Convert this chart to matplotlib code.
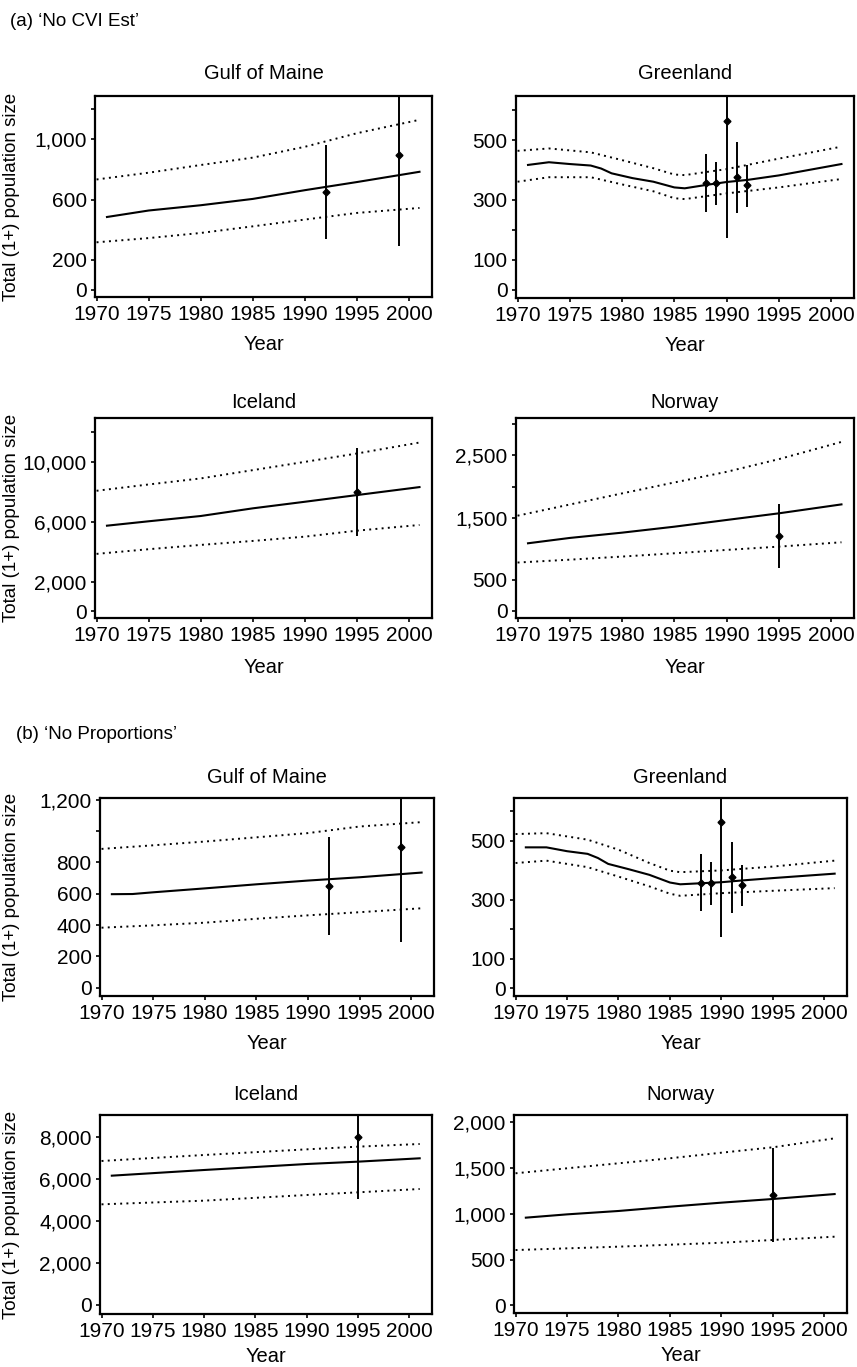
import matplotlib
matplotlib.use("Agg")
import matplotlib.pyplot as plt

plt.rcParams['font.family'] = ['Liberation Sans', 'DejaVu Sans']

# ---- (a) 'No CVI Est' ----
a_gom_mid_yr = [1971, 1975, 1980, 1985, 1990, 1995, 2001]
a_gom_mid = [484, 527, 562, 604, 662, 716, 784]
a_gom_band_yr = [1970, 1975, 1980, 1985, 1990, 1995, 2001]
a_gom_hi = [733, 778, 829, 878, 950, 1040, 1129]
a_gom_lo = [316, 344, 378, 422, 467, 511, 544]
a_gom_obs_yr = [1992, 1999]
a_gom_obs = [651, 898]
a_gom_obs_lo = [338, 293]
a_gom_obs_hi = [960, 1500]

a_grl_mid_yr = [1971, 1973, 1975, 1977, 1978, 1979, 1981, 1983, 1985, 1986, 1988, 1990, 1992, 1995, 2001]
a_grl_mid = [417, 426, 420, 415, 405, 389, 373, 361, 342, 339, 350, 360, 367, 382, 420]
a_grl_band_yr = [1970, 1973, 1977, 1980, 1983, 1985, 1986, 1990, 1995, 2001]
a_grl_hi = [464, 472, 459, 433, 406, 385, 383, 403, 438, 478]
a_grl_lo = [361, 376, 376, 352, 329, 306, 303, 322, 342, 370]

a_ice_mid_yr = [1971, 1975, 1980, 1985, 1990, 1995, 2001]
a_ice_mid = [5733, 6027, 6380, 6893, 7333, 7780, 8313]
a_ice_band_yr = [1970, 1975, 1980, 1985, 1990, 1995, 2001]
a_ice_hi = [8067, 8489, 8893, 9447, 10000, 10560, 11293]
a_ice_lo = [3847, 4160, 4447, 4713, 5000, 5400, 5780]

a_nor_mid_yr = [1971, 1975, 1980, 1985, 1990, 1995, 2001]
a_nor_mid = [1086, 1172, 1257, 1353, 1461, 1568, 1712]
a_nor_band_yr = [1970, 1975, 1980, 1985, 1990, 1995, 2001]
a_nor_hi = [1530, 1710, 1889, 2065, 2236, 2440, 2718]
a_nor_lo = [776, 822, 872, 925, 979, 1032, 1102]

# ---- (b) 'No Proportions' ----
b_gom_mid_yr = [1971, 1973, 1975, 1980, 1985, 1990, 1995, 2001]
b_gom_mid = [597, 598, 609, 634, 660, 684, 705, 735]
b_gom_band_yr = [1970, 1975, 1980, 1985, 1990, 1995, 2001]
b_gom_hi = [886, 909, 933, 960, 987, 1029, 1057]
b_gom_lo = [383, 398, 415, 440, 462, 482, 507]

b_grl_mid_yr = [1971, 1973, 1975, 1977, 1978, 1979, 1981, 1983, 1985, 1986, 1990, 1992, 1995, 2001]
b_grl_mid = [477, 477, 464, 455, 441, 421, 403, 384, 358, 352, 359, 365, 373, 388]
b_grl_band_yr = [1970, 1973, 1977, 1980, 1983, 1985, 1986, 1990, 1995, 2001]
b_grl_hi = [522, 525, 503, 469, 424, 398, 393, 399, 412, 432]
b_grl_lo = [424, 432, 410, 378, 345, 320, 313, 322, 330, 339]

b_ice_mid_yr = [1971, 1980, 1990, 1995, 2001]
b_ice_mid = [6173, 6444, 6730, 6842, 7002]
b_ice_band_yr = [1970, 1980, 1990, 1995, 2001]
b_ice_hi = [6874, 7160, 7430, 7558, 7685]
b_ice_lo = [4805, 4980, 5251, 5378, 5537]

b_nor_mid_yr = [1971, 1975, 1980, 1985, 1990, 1995, 2001]
b_nor_mid = [958, 994, 1031, 1078, 1122, 1162, 1216]
b_nor_hi_yr = [1970, 1980, 1985, 1990, 1995, 2001]
b_nor_hi = [1443, 1552, 1607, 1668, 1727, 1825]
b_nor_lo_yr = [1970, 1980, 1990, 1995, 2001]
b_nor_lo = [604, 641, 684, 714, 750]

# survey estimates (same in both runs)
grl_obs_yr = [1988, 1989, 1990, 1991, 1992]
grl_obs = [357, 356, 564, 376, 349]
grl_obs_lo = [261, 283, 174, 256, 278]
grl_obs_hi = [453, 426, 800, 494, 417]
ice_obs_yr = [1995]
ice_obs = [8000]
ice_obs_lo = [5063]
ice_obs_hi = [10930]
nor_obs_yr = [1995]
nor_obs = [1211]
nor_obs_lo = [695]
nor_obs_hi = [1720]

x_ticks = [1970, 1975, 1980, 1985, 1990, 1995, 2000]

W, H = 857, 1367
fig = plt.figure(figsize=(W / 100, H / 100), dpi=100)


def rect(l, t, r, b):
    return [l / W, 1 - b / H, (r - l) / W, (b - t) / H]


def panel(box, title, mid_yr, mid, hi_yr, hi, lo_yr, lo, oyr, oest, olo, ohi,
          ylim, yt, ytl, ylabel, title_pad, xlab_pad):
    ax = fig.add_axes(rect(*box))
    ax.plot(mid_yr, mid, color='black', lw=1.5, solid_joinstyle='round')
    ax.plot(hi_yr, hi, color='black', lw=1.4, linestyle=(0, (1, 2.2)))
    ax.plot(lo_yr, lo, color='black', lw=1.4, linestyle=(0, (1, 2.2)))
    yerr = [[e - l for e, l in zip(oest, olo)], [h - e for e, h in zip(oest, ohi)]]
    ax.errorbar(oyr, oest, yerr=yerr, fmt='D', color='black', ms=3.5,
                elinewidth=1.4, capsize=0)
    ax.set_xlim(1969.85, 2002.2)
    ax.set_ylim(*ylim)
    ax.set_xticks(x_ticks)
    ax.set_yticks(yt)
    ax.set_yticklabels(ytl)
    ax.tick_params(direction='out', length=3, width=1.2, labelsize=15, pad=3)
    for s in ax.spines.values():
        s.set_linewidth(1.6)
    ax.set_title(title, fontsize=14.5, pad=title_pad)
    ax.set_xlabel('Year', fontsize=14.5, labelpad=xlab_pad)
    if ylabel:
        ax.set_ylabel('Total (1+) population size', fontsize=13.5)
        ax.yaxis.set_label_coords(-(box[0] - 20) / (box[2] - box[0]), 0.5)
    return ax


panel((95, 96, 432, 297), 'Gulf of Maine', a_gom_mid_yr, a_gom_mid,
      a_gom_band_yr, a_gom_hi, a_gom_band_yr, a_gom_lo,
      a_gom_obs_yr, a_gom_obs, a_gom_obs_lo, a_gom_obs_hi,
      (-47, 1287), [0, 200, 600, 1000, 1200], ['0', '200', '600', '1,000', ''],
      True, 12, 8)
panel((516, 96, 854, 298), 'Greenland', a_grl_mid_yr, a_grl_mid,
      a_grl_band_yr, a_grl_hi, a_grl_band_yr, a_grl_lo,
      grl_obs_yr, grl_obs, grl_obs_lo, grl_obs_hi,
      (-27, 647), [0, 100, 200, 300, 500, 600], ['0', '100', '', '300', '500', ''],
      False, 12, 8)
panel((95, 418, 432, 618), 'Iceland', a_ice_mid_yr, a_ice_mid,
      a_ice_band_yr, a_ice_hi, a_ice_band_yr, a_ice_lo,
      ice_obs_yr, ice_obs, ice_obs_lo, ice_obs_hi,
      (-440, 12933), [0, 2000, 6000, 10000, 12000], ['0', '2,000', '6,000', '10,000', ''],
      True, 7, 9)
panel((516, 418, 854, 618), 'Norway', a_nor_mid_yr, a_nor_mid,
      a_nor_band_yr, a_nor_hi, a_nor_band_yr, a_nor_lo,
      nor_obs_yr, nor_obs, nor_obs_lo, nor_obs_hi,
      (-117, 3103), [0, 500, 1500, 2000, 2500, 3000], ['0', '500', '1,500', '', '2,500', ''],
      False, 7, 9)

panel((100, 798, 434, 996), 'Gulf of Maine', b_gom_mid_yr, b_gom_mid,
      b_gom_band_yr, b_gom_hi, b_gom_band_yr, b_gom_lo,
      a_gom_obs_yr, a_gom_obs, a_gom_obs_lo, a_gom_obs_hi,
      (-53, 1211), [0, 200, 400, 600, 800, 1000, 1200],
      ['0', '200', '400', '600', '800', '', '1,200'],
      True, 11, 8)
panel((514, 798, 847, 996), 'Greenland', b_grl_mid_yr, b_grl_mid,
      b_grl_band_yr, b_grl_hi, b_grl_band_yr, b_grl_lo,
      grl_obs_yr, grl_obs, grl_obs_lo, grl_obs_hi,
      (-26, 644), [0, 100, 200, 300, 500, 600], ['0', '100', '', '300', '500', ''],
      False, 11, 8)
panel((100, 1115, 432, 1314), 'Iceland', b_ice_mid_yr, b_ice_mid,
      b_ice_band_yr, b_ice_hi, b_ice_band_yr, b_ice_lo,
      ice_obs_yr, ice_obs, ice_obs_lo, ice_obs_hi,
      (-430, 9069), [0, 2000, 4000, 6000, 8000], ['0', '2,000', '4,000', '6,000', '8,000'],
      True, 11, 4)
panel((514, 1115, 847, 1313), 'Norway', b_nor_mid_yr, b_nor_mid,
      b_nor_hi_yr, b_nor_hi, b_nor_lo_yr, b_nor_lo,
      nor_obs_yr, nor_obs, nor_obs_lo, nor_obs_hi,
      (-84, 2080), [0, 500, 1000, 1500, 2000], ['0', '500', '1,000', '1,500', '2,000'],
      False, 11, 4)

fig.text(10 / W, 1 - 22 / H, "(a) \u2018No CVI Est\u2019", fontsize=13.5, va='center')
fig.text(16 / W, 1 - 735 / H, "(b) \u2018No Proportions\u2019", fontsize=13.5, va='center')

fig.savefig('out.png', dpi=100)
